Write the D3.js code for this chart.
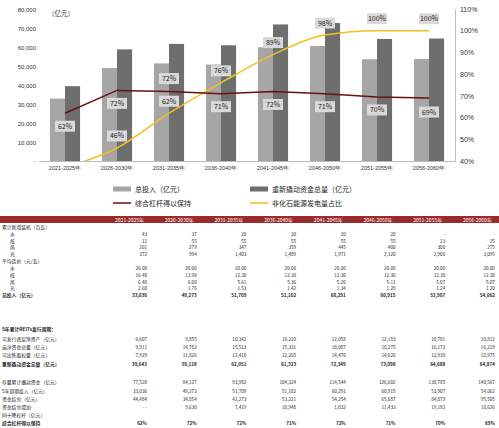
<!DOCTYPE html>
<html><head><meta charset="utf-8">
<script src="https://cdn.jsdelivr.net/npm/d3@7/dist/d3.min.js"></script>
<style>body{margin:0;background:#fff}svg{font-family:"Noto Sans CJK SC","Liberation Sans",sans-serif}</style>
</head><body><svg id="c" width="499" height="428"></svg>
<script>
const categories=["2021-2025年","2026-2030年","2031-2035年","2036-2040年","2041-2045年","2046-2050年","2051-2055年","2056-2060年"];
const totalInvest=[33036,49273,51709,51102,60291,60915,53907,54062];
const leveragedFunds=[39643,59128,62051,61323,72349,73098,64688,64874];
const leverageRatio=[0.62,0.725,0.72,0.71,0.72,0.71,0.695,0.69];
const nonFossilShare=[0.37,0.46,0.62,0.76,0.89,0.98,1.0,1.0];
const leverageLabels=["62%","72%","72%","71%","72%","71%","70%","69%"];
const nonFossilLabels=[null,"46%","62%","76%","89%","98%","100%","100%"];
const leftTicks=[0,10000,20000,30000,40000,50000,60000,70000,80000];
const rightTicks=[0.4,0.5,0.6,0.7,0.8,0.9,1.0,1.1];
const tableRows=[
["累计新增装机（百瓦）",null,false],
["水",["43","37","20","20","20","20","-","-"],false],
["核",["12","55","55","55","55","55","23","25"],false],
["风",["201","279","347","359","445","400","300","275"],false],
["光",["372","994","1,403","1,489","1,971","2,320","2,906","3,095"],false],
["平均造价（元/瓦）",null,false],
["水",["20.00","20.00","20.00","20.00","20.00","20.00","20.00","20.00"],false],
["核",["16.40","13.90","12.30","12.30","12.30","12.30","12.30","12.30"],false],
["风",["6.40","6.00","5.61","5.36","5.20","5.11","5.07","5.07"],false],
["光",["2.60","1.76","1.53","1.42","1.34","1.28","1.24","1.20"],false],
["总投入（亿元）",["33,036","49,273","51,709","51,102","60,291","60,915","53,907","54,062"],true],
["",null,false],
["5年累计REITs发行周期：",null,true],
["可发行底层净资产（亿元）",["6,607","9,855","10,342","10,220","12,058","12,183","10,781","10,812"],false],
["庙淳资金总量（亿元）",["9,911","14,782","15,513","15,331","18,087","18,275","16,172","16,219"],false],
["可出售股权量（亿元）",["7,929","11,826","12,410","12,265","14,470","14,620","12,938","12,975"],false],
["重新撬动资金总量（亿元）",["39,643","59,128","62,051","61,323","72,349","73,098","64,688","64,874"],true],
["",null,false],
["存量累计撬动资金（亿元）",["77,520","84,127","93,982","104,324","114,544","126,602","138,785","140,567"],false],
["5年周期投入（亿元）",["33,036","49,273","51,709","51,102","60,291","60,915","53,907","54,062"],false],
["资金结余（亿元）",["44,484","34,854","42,273","53,221","54,254","65,687","84,879","95,505"],false],
["资金结余增加-",["- -","9,630","7,419","10,948","1,032","11,433","19,192","10,626"],false],
["同十降杠杆（亿元）",null,false],
["综合杠杆得以保持",["62%","72%","72%","71%","72%","71%","70%","69%"],true]
];
const svg=d3.select("#c");
const x=d3.scaleBand().domain(categories).range([39,455]).paddingInner(0.42).paddingOuter(0.21);
const yL=d3.scaleLinear().domain([0,80000]).range([161,10]);
const yR=d3.scaleLinear().domain([0.4,1.1]).range([161,9]);
const bw=x.bandwidth()/2;
svg.append("g").selectAll("rect").data(totalInvest).join("rect")
 .attr("x",(d,i)=>x(categories[i])).attr("y",d=>yL(d)).attr("width",bw).attr("height",d=>161-yL(d)).attr("fill","#a6a6a6");
svg.append("g").selectAll("rect").data(leveragedFunds).join("rect")
 .attr("x",(d,i)=>x(categories[i])+bw).attr("y",d=>yL(d)).attr("width",bw).attr("height",d=>161-yL(d)).attr("fill","#6e6e6e");
const gl=svg.append("g").attr("transform","translate(39,0)").call(d3.axisLeft(yL).tickValues(leftTicks).tickSize(0).tickFormat(d=>d===0?"-":d3.format(",")(d)));
gl.select(".domain").remove();gl.selectAll("text").attr("font-size",6).attr("fill","#333").attr("x",-3);
const gr=svg.append("g").attr("transform","translate(455,0)").call(d3.axisRight(yR).tickValues(rightTicks).tickSize(0).tickFormat(d3.format(".0%")));
gr.select(".domain").attr("stroke","#bbb");gr.selectAll("text").attr("font-size",7).attr("fill","#333").attr("x",5);
const gb=svg.append("g").attr("transform","translate(0,161)").call(d3.axisBottom(x).tickSize(0));
gb.select(".domain").attr("stroke","#bbb");gb.selectAll("text").attr("font-size",5.5).attr("fill","#333").attr("dy",6);
svg.append("text").attr("x",48).attr("y",16).attr("font-size",6.5).attr("fill","#333").text("（亿元）");
const cx=(d,i)=>x(categories[i])+x.bandwidth()/2;
svg.append("defs").append("clipPath").attr("id","clp").append("rect").attr("x",39).attr("y",0).attr("width",416).attr("height",161);
svg.append("path").datum(nonFossilShare).attr("clip-path","url(#clp)").attr("fill","none").attr("stroke","#f2c01c").attr("stroke-width",1.5)
 .attr("d",d3.line().x(cx).y(d=>yR(d)).curve(d3.curveMonotoneX));
svg.append("path").datum(leverageRatio).attr("fill","none").attr("stroke","#6b1010").attr("stroke-width",1.5)
 .attr("d",d3.line().x(cx).y(d=>yR(d)));
const levOff=[13,13,-13,13,13,13,13,14];
function lab(val,txt,i,off){ if(!txt)return;
 const g=svg.append("g").attr("transform",`translate(${cx(val,i)},${yR(val)+off})`);
 g.append("rect").attr("x",-10).attr("y",-5.5).attr("width",20).attr("height",11).attr("fill","#d9d9d9");
 g.append("text").attr("text-anchor","middle").attr("dy",2.5).attr("font-size",7).attr("fill","#222").text(txt);}
leverageRatio.forEach((v,i)=>lab(v,leverageLabels[i],i,levOff[i]));
nonFossilShare.forEach((v,i)=>lab(v,nonFossilLabels[i],i,-12));
// legend
const lg=[["总投入（亿元）","#a6a6a6","bar",113,189],["重新撬动资金总量（亿元）","#6e6e6e","bar",250,189],["综合杠杆得以保持","#6b1010","line",113,203],["非化石能源发电量占比","#f2c01c","line",250,203]];
lg.forEach(([t,c,k,lx,ly])=>{
 if(k==="bar")svg.append("rect").attr("x",lx).attr("y",ly-2.5).attr("width",18).attr("height",5).attr("fill",c);
 else svg.append("line").attr("x1",lx).attr("x2",lx+18).attr("y1",ly).attr("y2",ly).attr("stroke",c).attr("stroke-width",1.5);
 svg.append("text").attr("x",lx+22).attr("y",ly+2.5).attr("font-size",7).attr("fill","#222").text(t);});
// table
svg.append("rect").attr("x",0).attr("y",216).attr("width",499).attr("height",7).attr("fill","#9b2a2a");
const colR=d3.range(8).map(i=>147+i*49.7);
categories.forEach((c,i)=>svg.append("text").attr("x",colR[i]-3).attr("y",222).attr("text-anchor","end").attr("font-size",5).attr("fill","#fff").text(c));
const rowY=[229,236,243,249,256,263,270,277,284,290,297,null,331,341,349,357,366,null,384,393,401,409,417,425];
tableRows.forEach(([name,vals,bold],r)=>{const yy=rowY[r]; if(yy==null)return;
 const indent=(name.length===1)?10:2;
 svg.append("text").attr("x",indent).attr("y",yy).attr("font-size",4.8).attr("font-weight",bold?"bold":"normal").attr("fill","#222").text(name);
 if(vals)vals.forEach((v,i)=>svg.append("text").attr("x",colR[i]).attr("y",yy).attr("text-anchor","end").attr("font-size",4.6).attr("font-weight",bold?"bold":"normal").attr("fill","#222").text(v));});
</script></body></html>
